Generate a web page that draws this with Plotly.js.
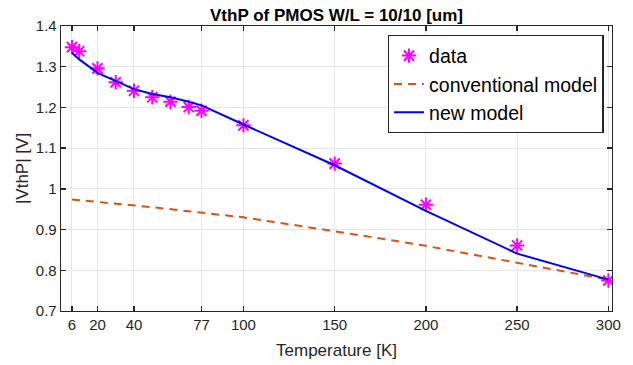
<!DOCTYPE html>
<html>
<head>
<meta charset="utf-8">
<script src="https://cdn.plot.ly/plotly-3.0.1.min.js"></script>
<style>html,body{margin:0;padding:0;background:#fff;}#chart{width:633px;height:365px;}</style>
</head>
<body>
<div id="chart"></div>
<script>
// Measured data (temperature in K, |VthP| in V)
const dataT = [6, 10, 20, 30, 40, 50, 60, 70, 77, 100, 150, 200, 250, 300];
const dataV = [1.348, 1.338, 1.296, 1.262, 1.241, 1.225, 1.214, 1.201, 1.192, 1.156, 1.062, 0.961, 0.861, 0.775];

// New model curve
const newT = [6, 10, 20, 30, 40, 50, 60, 70, 77, 100, 150, 200, 250, 300];
const newV = [1.334, 1.318, 1.285, 1.265, 1.245, 1.233, 1.225, 1.214, 1.205, 1.158, 1.058, 0.946, 0.841, 0.777];

// Conventional model curve
const convT = [6, 50, 100, 150, 200, 250, 300];
const convV = [0.974, 0.955, 0.930, 0.896, 0.860, 0.818, 0.777];

// Axis ticks
const xTicks = [6, 20, 40, 77, 100, 150, 200, 250, 300];
const yTicks = [0.7, 0.8, 0.9, 1.0, 1.1, 1.2, 1.3, 1.4];

const FONT = 'Liberation Sans, Arial, Helvetica, sans-serif';
const AX = '#262626';

const traces = [
  {x: dataT, y: dataV, name: 'data', type: 'scatter', mode: 'markers',
   marker: {symbol: 'asterisk-open', size: 12, color: '#FF00FF', line: {color: '#FF00FF', width: 2}}},
  {x: convT, y: convV, name: 'conventional model', type: 'scatter', mode: 'lines',
   line: {color: '#D95319', width: 2, dash: '8px,6px'}},
  {x: newT, y: newV, name: 'new model', type: 'scatter', mode: 'lines',
   line: {color: '#0000FF', width: 2}}
];

const layout = {
  width: 633, height: 365,
  margin: {l: 61, r: 21, t: 26, b: 54, pad: 0},
  paper_bgcolor: '#fff', plot_bgcolor: '#fff',
  font: {family: FONT, color: AX, size: 15},
  title: {text: '<b>VthP of PMOS W/L = 10/10 [um]</b>', font: {family: FONT, size: 17, color: '#000'},
          x: 0.5, xref: 'paper', xanchor: 'center', y: 0.958, yref: 'container', yanchor: 'middle'},
  xaxis: {range: [0, 302], tickvals: xTicks, ticktext: xTicks.map(String),
          showline: true, linecolor: AX, linewidth: 1.3, mirror: 'ticks',
          ticks: 'inside', ticklen: 5, tickwidth: 1.3, tickcolor: AX,
          showgrid: true, gridcolor: '#e6e6e6', gridwidth: 1, zeroline: false,
          tickfont: {size: 15, color: AX},
          title: {text: 'Temperature [K]', font: {size: 17, color: AX}, standoff: 11}},
  yaxis: {range: [0.7, 1.4], tickvals: yTicks, ticktext: yTicks.map(v => String(+v.toFixed(1))),
          showline: true, linecolor: AX, linewidth: 1.3, mirror: 'ticks',
          ticks: 'inside', ticklen: 5, tickwidth: 1.3, tickcolor: AX,
          showgrid: true, gridcolor: '#e6e6e6', gridwidth: 1, zeroline: false,
          tickfont: {size: 15, color: AX},
          title: {text: '|VthP| [V]', font: {size: 17, color: AX}, standoff: 3}},
  legend: {x: 0.985, y: 0.968, xanchor: 'right', yanchor: 'top',
           bgcolor: '#fff', bordercolor: AX, borderwidth: 1.3,
           font: {size: 19.5, color: '#000', family: FONT}, tracegroupgap: 0, itemwidth: 30},
  showlegend: true
};

Plotly.newPlot('chart', traces, layout, {staticPlot: true, displayModeBar: false});
</script>
</body>
</html>
